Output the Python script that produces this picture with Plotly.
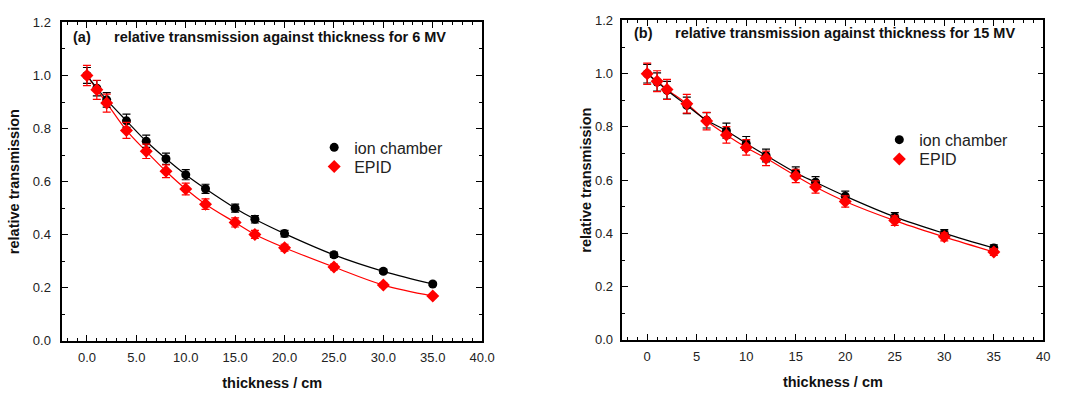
import plotly.graph_objects as go

thickness = [0, 1, 2, 4, 6, 8, 10, 12, 15, 17, 20, 25, 30, 35]

# 6 MV
ion_6 = [1.000, 0.952, 0.908, 0.829, 0.752, 0.686, 0.626, 0.573, 0.500, 0.458, 0.404, 0.324, 0.262, 0.214]
epid_6 = [1.000, 0.946, 0.896, 0.793, 0.714, 0.639, 0.572, 0.515, 0.446, 0.401, 0.351, 0.278, 0.210, 0.169]
ion_6_err = [0.030, 0.029, 0.027, 0.025, 0.023, 0.021, 0.019, 0.017, 0.015, 0.014, 0.012, 0.010, 0.008, 0.006]
epid_6_err = [0.038, 0.036, 0.034, 0.030, 0.027, 0.024, 0.022, 0.020, 0.017, 0.015, 0.013, 0.011, 0.008, 0.006]

# 15 MV
ion_15 = [1.000, 0.969, 0.938, 0.881, 0.825, 0.786, 0.738, 0.693, 0.628, 0.592, 0.540, 0.462, 0.400, 0.345]
epid_15 = [1.000, 0.972, 0.941, 0.887, 0.822, 0.770, 0.723, 0.682, 0.616, 0.574, 0.520, 0.448, 0.387, 0.330]
ion_15_err = [0.035, 0.034, 0.033, 0.031, 0.029, 0.028, 0.026, 0.024, 0.022, 0.021, 0.019, 0.016, 0.014, 0.012]
epid_15_err = [0.040, 0.039, 0.038, 0.035, 0.033, 0.031, 0.029, 0.027, 0.025, 0.023, 0.021, 0.018, 0.015, 0.013]

W, H = 1083, 395
FONT = "Liberation Sans, Arial, sans-serif"

def px_x(a, b):
    return [a / W, b / W]

def px_y(top, bottom):
    return [(H - bottom) / H, (H - top) / H]

fig = go.Figure()

panels = [
    ("x", "y", ion_6, epid_6, ion_6_err, epid_6_err, "legend", "legend2"),
    ("x2", "y2", ion_15, epid_15, ion_15_err, epid_15_err, "legend3", "legend4"),
]
for xa, ya, ion, epid, ierr, eerr, leg_ion, leg_epid in panels:
    fig.add_trace(go.Scatter(x=thickness, y=epid, mode="lines", line=dict(color="red", width=1.2, shape="spline"),
                             xaxis=xa, yaxis=ya, showlegend=False, hoverinfo="skip"))
    fig.add_trace(go.Scatter(x=thickness, y=ion, mode="lines", line=dict(color="black", width=1.2, shape="spline"),
                             xaxis=xa, yaxis=ya, showlegend=False, hoverinfo="skip"))
    fig.add_trace(go.Scatter(x=thickness, y=ion, mode="markers", name="ion chamber",
                             marker=dict(symbol="circle", size=9, color="black"),
                             error_y=dict(type="data", array=ierr, color="black", thickness=1.2, width=4),
                             xaxis=xa, yaxis=ya, legend=leg_ion))
    fig.add_trace(go.Scatter(x=thickness, y=epid, mode="markers", name="EPID",
                             marker=dict(symbol="diamond", size=10, color="red"),
                             error_y=dict(type="data", array=eerr, color="red", thickness=1.2, width=4),
                             xaxis=xa, yaxis=ya, legend=leg_epid))

axis_common = dict(
    showline=True, linecolor="black", linewidth=1.5, mirror="ticks",
    ticks="inside", ticklen=6, tickwidth=1, tickcolor="black",
    showgrid=False, zeroline=False,
    tickfont=dict(family=FONT, size=13, color="#222"),
)

TITLE_FONT = dict(family=FONT, size=14.5, color="#111")

def legend_at(x_px, y_px):
    return dict(x=x_px / W, y=(H - y_px) / H, xanchor="left", yanchor="middle", bgcolor="rgba(0,0,0,0)",
                font=dict(family=FONT, size=16, color="#222"), itemsizing="trace")

fig.update_layout(
    width=W, height=H, margin=dict(l=0, r=0, t=0, b=0),
    paper_bgcolor="white", plot_bgcolor="white",
    font=dict(family=FONT, color="black"),
    xaxis=dict(domain=px_x(63, 488), range=[-2.5, 40], dtick=5, tick0=0, tickformat=".1f",
               minor=dict(ticks="inside", dtick=1, ticklen=3, tickcolor="black"),
               ticklabelstandoff=4,
               title=dict(text="<b>thickness / cm</b>", font=TITLE_FONT, standoff=14),
               anchor="y", **axis_common),
    yaxis=dict(domain=px_y(16, 347), range=[0, 1.2], dtick=0.2, tick0=0, tickformat=".1f",
               minor=dict(ticks="inside", dtick=0.1, ticklen=3, tickcolor="black"),
               ticklabelstandoff=7,
               title=dict(text="<b>relative transmission</b>", font=TITLE_FONT, standoff=10),
               anchor="x", **axis_common),
    xaxis2=dict(domain=px_x(630, 1056), range=[-2.5, 40], dtick=5, tick0=0, tickformat="d",
                minor=dict(ticks="inside", dtick=1, ticklen=3, tickcolor="black"),
                ticklabelstandoff=4,
                title=dict(text="<b>thickness / cm</b>", font=TITLE_FONT, standoff=14),
                anchor="y2", **axis_common),
    yaxis2=dict(domain=px_y(14, 346), range=[0, 1.2], dtick=0.2, tick0=0, tickformat=".1f",
                minor=dict(ticks="inside", dtick=0.1, ticklen=3, tickcolor="black"),
                ticklabelstandoff=5,
                title=dict(text="<b>relative transmission</b>", font=TITLE_FONT, standoff=0),
                anchor="x2", **axis_common),
    legend=legend_at(318, 146),
    legend2=legend_at(318, 166),
    legend3=legend_at(890, 138),
    legend4=legend_at(890, 158),
    annotations=[
        dict(text="<b>(a)</b>", x=72 / W, y=(H - 31) / H, xref="paper", yref="paper",
             xanchor="left", yanchor="middle", showarrow=False, font=TITLE_FONT),
        dict(text="<b>relative transmission against thickness for 6 MV</b>", x=113 / W, y=(H - 31) / H,
             xref="paper", yref="paper", xanchor="left", yanchor="middle", showarrow=False,
             font=TITLE_FONT),
        dict(text="<b>(b)</b>", x=640 / W, y=(H - 27) / H, xref="paper", yref="paper",
             xanchor="left", yanchor="middle", showarrow=False, font=TITLE_FONT),
        dict(text="<b>relative transmission against thickness for 15 MV</b>", x=681 / W, y=(H - 27) / H,
             xref="paper", yref="paper", xanchor="left", yanchor="middle", showarrow=False,
             font=TITLE_FONT),
    ],
)

fig.write_html("out.html")
